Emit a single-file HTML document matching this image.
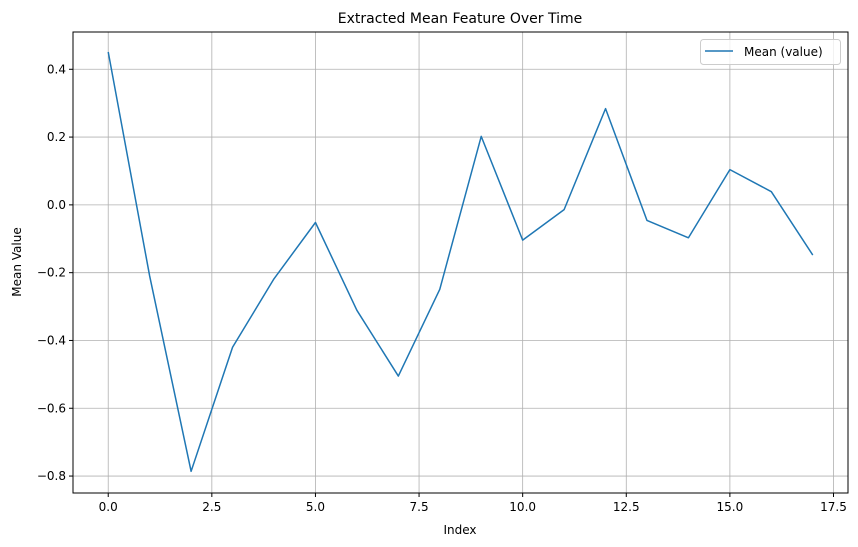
<!DOCTYPE html>
<html><head><meta charset="utf-8"><style>
body{margin:0;background:#fff;}
svg{display:block;font-family:"DejaVu Sans","Liberation Sans",sans-serif;}
</style></head><body>
<svg id="chart" width="858" height="547">
<rect width="858" height="547" fill="#fff"/>
<g id="grid"></g>
<g id="xticks"></g>
<g id="yticks"></g>
<path id="line" fill="none" stroke="#1f77b4" stroke-width="1.5" stroke-linejoin="round"/>
<rect x="73" y="32" width="775" height="461" fill="none" stroke="#000" stroke-width="1"/>
<text x="460" y="23" text-anchor="middle" font-size="14">Extracted Mean Feature Over Time</text>
<text x="460" y="534" text-anchor="middle" font-size="12">Index</text>
<text transform="translate(21,262) rotate(-90)" text-anchor="middle" font-size="12">Mean Value</text>
<g>
<rect x="700.5" y="39.5" width="140" height="25" rx="3" fill="#fff" fill-opacity="0.8" stroke="#ccc"/>
<line x1="705" y1="51" x2="733" y2="51" stroke="#1f77b4" stroke-width="1.5"/>
<text x="744" y="56" font-size="12">Mean (value)</text>
</g>
</svg>
<script>
const xValues=[0,1,2,3,4,5,6,7,8,9,10,11,12,13,14,15,16,17];
const meanValues=[0.451,-0.21,-0.786,-0.420,-0.218,-0.052,-0.311,-0.505,-0.249,0.202,-0.104,-0.014,0.284,-0.046,-0.097,0.104,0.039,-0.148];
const xTicks=[0,2.5,5,7.5,10,12.5,15,17.5];
const yTicks=[-0.8,-0.6,-0.4,-0.2,0,0.2,0.4];
const L=73,R=848,T=32,B=493;
const xMin=-0.85,xMax=17.85,yMin=-0.85,yMax=0.51;
function xs(v){return L+(v-xMin)/(xMax-xMin)*(R-L);}
function ys(v){return B-(v-yMin)/(yMax-yMin)*(B-T);}
const NS='http://www.w3.org/2000/svg';
const grid=document.getElementById('grid'),gx=document.getElementById('xticks'),gy=document.getElementById('yticks');
function mk(tag,attrs,parent){const e=document.createElementNS(NS,tag);for(const k in attrs)e.setAttribute(k,attrs[k]);parent.appendChild(e);return e;}
xTicks.forEach(t=>{const x=xs(t);
 const g=mk('line',{x1:x,x2:x,y1:T,y2:B,stroke:'#b0b0b0','stroke-width':0.8},grid);
 
 
 const tk=mk('line',{x1:x,x2:x,y1:B,y2:B+4,stroke:'#000'},gx);
 
 
 const tx=mk('text',{x:x,y:B+18,'text-anchor':'middle','font-size':12},gx);
 
 
 tx.textContent=t.toFixed(1);});
yTicks.forEach(t=>{const y=ys(t);
 const g=mk('line',{x1:L,x2:R,y1:y,y2:y,stroke:'#b0b0b0','stroke-width':0.8},grid);
 
 
 const tk=mk('line',{x1:L-4,x2:L,y1:y,y2:y,stroke:'#000'},gy);
 
 
 const tx=mk('text',{x:L-7,y:y+4,'text-anchor':'end','font-size':12},gy);
 
 
 tx.textContent=(t<0?'\u2212':'')+Math.abs(t).toFixed(1);});
document.getElementById('line').setAttribute('d',xValues.map((v,i)=>(i?'L':'M')+xs(v).toFixed(2)+','+ys(meanValues[i]).toFixed(2)).join(''));
</script>
</body></html>
